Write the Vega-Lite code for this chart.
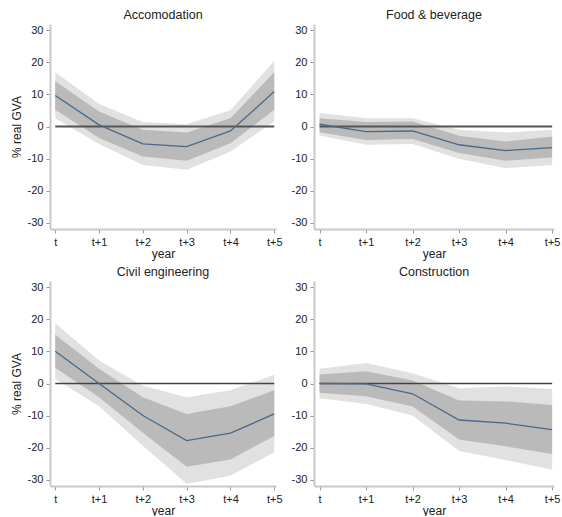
{
  "$schema": "https://vega.github.io/schema/vega-lite/v6.json",
  "background": "white",
  "padding": {"left": 10, "top": 8, "right": 2, "bottom": 0},
  "config": {
    "view": {"stroke": null},
    "font": "Liberation Sans",
    "title": {"fontSize": 12.5, "fontWeight": "normal", "color": "#222", "offset": 3},
    "axis": {"grid": false, "domainColor": "#c8c8c8", "domainWidth": 2, "tickColor": "#9a9a9a", "tickSize": 4, "labelColor": "#222", "labelFontSize": 11, "titleFontSize": 12, "titleFontWeight": "normal", "titleColor": "#222", "labelPadding": 3, "labelOverlap": false, "labelFlush": false},
    "axisY": {"values": [-30,-20,-10,0,10,20,30], "labelExpr": "'' + datum.value", "titlePadding": 4},
    "axisX": {"values": [0,1,2,3,4,5], "labelExpr": "datum.value == 0 ? 't' : 't+' + datum.value", "titlePadding": 1},
    "concat": {"spacing": 6}
  },
  "datasets": {
    "irf": [
      {"panel": "Accomodation", "k": 0, "b": 9.7, "lo90": 5.2, "hi90": 14.1, "lo95": 2.6, "hi95": 16.9},
      {"panel": "Accomodation", "k": 1, "b": 0.5, "lo90": -3.6, "hi90": 4.7, "lo95": -5.5, "hi95": 7.0},
      {"panel": "Accomodation", "k": 2, "b": -5.4, "lo90": -9.4, "hi90": -1.0, "lo95": -12.0, "hi95": 1.4},
      {"panel": "Accomodation", "k": 3, "b": -6.3, "lo90": -10.7, "hi90": -1.9, "lo95": -13.5, "hi95": 0.7},
      {"panel": "Accomodation", "k": 4, "b": -1.4, "lo90": -5.2, "hi90": 2.6, "lo95": -7.8, "hi95": 5.1},
      {"panel": "Accomodation", "k": 5, "b": 10.9, "lo90": 5.2, "hi90": 16.9, "lo95": 1.6, "hi95": 20.5},
      {"panel": "Food & beverage", "k": 0, "b": 0.7, "lo90": -1.8, "hi90": 2.6, "lo95": -2.8, "hi95": 4.2},
      {"panel": "Food & beverage", "k": 1, "b": -1.6, "lo90": -4.2, "hi90": 1.4, "lo95": -5.7, "hi95": 2.6},
      {"panel": "Food & beverage", "k": 2, "b": -1.4, "lo90": -3.9, "hi90": 1.6, "lo95": -5.5, "hi95": 2.6},
      {"panel": "Food & beverage", "k": 3, "b": -5.7, "lo90": -8.3, "hi90": -2.9, "lo95": -10.1, "hi95": -1.0},
      {"panel": "Food & beverage", "k": 4, "b": -7.5, "lo90": -10.7, "hi90": -4.7, "lo95": -13.0, "hi95": -1.9},
      {"panel": "Food & beverage", "k": 5, "b": -6.6, "lo90": -9.7, "hi90": -3.1, "lo95": -12.0, "hi95": -1.0},
      {"panel": "Civil engineering", "k": 0, "b": 10.1, "lo90": 4.9, "hi90": 15.2, "lo95": 1.4, "hi95": 18.8},
      {"panel": "Civil engineering", "k": 1, "b": 0.0, "lo90": -4.3, "hi90": 4.6, "lo95": -7.1, "hi95": 7.2},
      {"panel": "Civil engineering", "k": 2, "b": -10.0, "lo90": -15.4, "hi90": -4.3, "lo95": -19.4, "hi95": -0.7},
      {"panel": "Civil engineering", "k": 3, "b": -17.8, "lo90": -26.0, "hi90": -9.5, "lo95": -31.3, "hi95": -4.3},
      {"panel": "Civil engineering", "k": 4, "b": -15.5, "lo90": -23.7, "hi90": -7.1, "lo95": -28.8, "hi95": -2.1},
      {"panel": "Civil engineering", "k": 5, "b": -9.5, "lo90": -16.4, "hi90": -2.1, "lo95": -21.5, "hi95": 2.7},
      {"panel": "Construction", "k": 0, "b": 0.0, "lo90": -2.9, "hi90": 2.8, "lo95": -4.6, "hi95": 4.6},
      {"panel": "Construction", "k": 1, "b": -0.1, "lo90": -4.0, "hi90": 3.8, "lo95": -6.4, "hi95": 6.4},
      {"panel": "Construction", "k": 2, "b": -3.2, "lo90": -7.2, "hi90": 0.9, "lo95": -10.0, "hi95": 3.2},
      {"panel": "Construction", "k": 3, "b": -11.4, "lo90": -17.5, "hi90": -5.3, "lo95": -21.1, "hi95": -1.5},
      {"panel": "Construction", "k": 4, "b": -12.4, "lo90": -19.6, "hi90": -5.6, "lo95": -23.9, "hi95": -0.9},
      {"panel": "Construction", "k": 5, "b": -14.4, "lo90": -22.0, "hi90": -6.7, "lo95": -26.9, "hi95": -1.7}
    ]
  },
  "vconcat": [
    {
      "spacing": 8,
      "hconcat": [
        {
          "title": "Accomodation",
          "width": 226, "height": 205,
          "data": {"name": "irf"},
          "transform": [{"filter": "datum.panel === 'Accomodation'"}],
          "encoding": {
            "x": {"field": "k", "type": "quantitative", "scale": {"domain": [-0.12, 5.04], "nice": false, "zero": false}, "title": "year"}
          },
          "layer": [
            {"mark": {"type": "area", "color": "#e1e1e1"}, "encoding": {"y": {"field": "lo95", "type": "quantitative", "scale": {"domain": [-32, 32], "nice": false}, "title": "% real GVA"}, "y2": {"field": "hi95"}}},
            {"mark": {"type": "area", "color": "#bababa"}, "encoding": {"y": {"field": "lo90", "type": "quantitative", "title": "% real GVA"}, "y2": {"field": "hi90"}}},
            {"mark": {"type": "line", "color": "#555555", "strokeWidth": 1.8}, "encoding": {"y": {"datum": 0, "type": "quantitative", "title": "% real GVA"}}},
            {"mark": {"type": "line", "color": "#4a6989", "strokeWidth": 1.3}, "encoding": {"y": {"field": "b", "type": "quantitative", "title": "% real GVA"}}}
          ]
        },
        {
          "title": "Food & beverage",
          "width": 240, "height": 205,
          "data": {"name": "irf"},
          "transform": [{"filter": "datum.panel === 'Food & beverage'"}],
          "encoding": {
            "x": {"field": "k", "type": "quantitative", "scale": {"domain": [-0.12, 5.04], "nice": false, "zero": false}, "title": "year"}
          },
          "layer": [
            {"mark": {"type": "area", "color": "#e1e1e1"}, "encoding": {"y": {"field": "lo95", "type": "quantitative", "scale": {"domain": [-32, 32], "nice": false}, "title": null}, "y2": {"field": "hi95"}}},
            {"mark": {"type": "area", "color": "#bababa"}, "encoding": {"y": {"field": "lo90", "type": "quantitative", "title": null}, "y2": {"field": "hi90"}}},
            {"mark": {"type": "line", "color": "#555555", "strokeWidth": 1.8}, "encoding": {"y": {"datum": 0, "type": "quantitative", "title": null}}},
            {"mark": {"type": "line", "color": "#4a6989", "strokeWidth": 1.3}, "encoding": {"y": {"field": "b", "type": "quantitative", "title": null}}}
          ]
        }
      ]
    },
    {
      "spacing": 8,
      "hconcat": [
        {
          "title": "Civil engineering",
          "width": 226, "height": 205,
          "data": {"name": "irf"},
          "transform": [{"filter": "datum.panel === 'Civil engineering'"}],
          "encoding": {
            "x": {"field": "k", "type": "quantitative", "scale": {"domain": [-0.12, 5.04], "nice": false, "zero": false}, "title": "year"}
          },
          "layer": [
            {"mark": {"type": "area", "color": "#e1e1e1"}, "encoding": {"y": {"field": "lo95", "type": "quantitative", "scale": {"domain": [-32, 32], "nice": false}, "title": "% real GVA"}, "y2": {"field": "hi95"}}},
            {"mark": {"type": "area", "color": "#bababa"}, "encoding": {"y": {"field": "lo90", "type": "quantitative", "title": "% real GVA"}, "y2": {"field": "hi90"}}},
            {"mark": {"type": "line", "color": "#444444", "strokeWidth": 1.5}, "encoding": {"y": {"datum": 0, "type": "quantitative", "title": "% real GVA"}}},
            {"mark": {"type": "line", "color": "#4a6989", "strokeWidth": 1.3}, "encoding": {"y": {"field": "b", "type": "quantitative", "title": "% real GVA"}}}
          ]
        },
        {
          "title": "Construction",
          "width": 240, "height": 205,
          "data": {"name": "irf"},
          "transform": [{"filter": "datum.panel === 'Construction'"}],
          "encoding": {
            "x": {"field": "k", "type": "quantitative", "scale": {"domain": [-0.12, 5.04], "nice": false, "zero": false}, "title": "year"}
          },
          "layer": [
            {"mark": {"type": "area", "color": "#e1e1e1"}, "encoding": {"y": {"field": "lo95", "type": "quantitative", "scale": {"domain": [-32, 32], "nice": false}, "title": null}, "y2": {"field": "hi95"}}},
            {"mark": {"type": "area", "color": "#bababa"}, "encoding": {"y": {"field": "lo90", "type": "quantitative", "title": null}, "y2": {"field": "hi90"}}},
            {"mark": {"type": "line", "color": "#444444", "strokeWidth": 1.5}, "encoding": {"y": {"datum": 0, "type": "quantitative", "title": null}}},
            {"mark": {"type": "line", "color": "#4a6989", "strokeWidth": 1.3}, "encoding": {"y": {"field": "b", "type": "quantitative", "title": null}}}
          ]
        }
      ]
    }
  ]
}
